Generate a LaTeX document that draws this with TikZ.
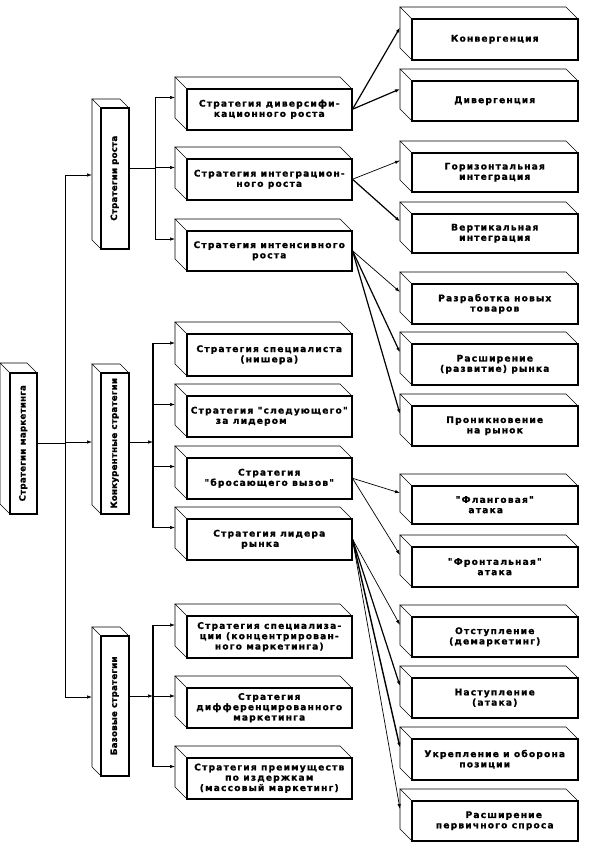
\documentclass[tikz,border=0pt]{standalone}
\usepackage{fontspec}
\usepackage{graphicx}
\newfontfamily\bxfont{DejaVu Sans}[LetterSpace=13, BoldFeatures={FakeBold=1.2}]
\newfontfamily\vtfont{DejaVu Sans}[LetterSpace=3, BoldFeatures={FakeBold=1.2}]
\usetikzlibrary{arrows.meta}
\newcommand\cube[7]{%
  \draw[backedge] (#2,#3) -- ++(-#6,-#6) -- ({#4-#6},{#3-#6}) -- (#4,#3);
  \draw[backedge] ({#2-#6},{#3-#6}) -- ({#2-#6},{#5-#6}) -- (#2,#5);
  \node[front, minimum width={#4-#2}, minimum height={#5-#3}, anchor=north west] (#1) at (#2,#3) {#7};
  \coordinate (#1-in) at ({#2-#6},{(#3+#5)/2-#6});
}
\newcommand\shl[1]{\hspace*{#1}}
\begin{document}
\begin{tikzpicture}[x=1pt,y=-1pt,
  front/.style={draw, line width=1.5pt, fill=white, inner sep=0pt, align=center,
    font=\bxfont\bfseries\fontsize{9.1}{10.3}\selectfont},
  backedge/.style={line width=0.6pt},
  conn/.style={line width=0.7pt},
  arr/.style={conn, -{Latex[length=5pt,width=3.5pt]}},
  thickarr/.style={arr, line width=1.2pt}
]
\useasboundingbox (0,0) rectangle (595,849);
\fill[white] (0,0) rectangle (595,849);

% left column
\cube{mk}{9}{372}{36}{513}{9}{\rotatebox{90}{\vtfont\bfseries\fontsize{8.6}{10}\selectfont Стратегии маркетинга}}

% second column
\cube{rosta}{100}{107}{128}{248}{8}{\rotatebox{90}{\vtfont\bfseries\fontsize{8.6}{10}\selectfont Стратегии роста}}
\cube{konk}{100}{372}{128}{513}{8}{\rotatebox{90}{\vtfont\bfseries\fontsize{8.6}{10}\selectfont Конкурентные стратегии}}
\cube{baz}{100}{635}{128}{775}{8}{\rotatebox{90}{\vtfont\bfseries\fontsize{8.6}{10}\selectfont Базовые стратегии}}

% third column
\cube{d1}{186}{88}{351}{129}{11}{Стратегия диверсифи-\\кационного роста}
\cube{d2}{186}{158}{351}{199}{11}{Стратегия интеграцион-\\ного роста}
\cube{d3}{186}{230}{351}{270}{11}{Стратегия интенсивного\\роста}
\cube{k1}{186}{333}{351}{375}{11}{Стратегия специалиста\\(нишера)}
\cube{k2}{186}{395}{351}{436}{11}{Стратегия "следующего"\\за лидером\shl{36pt}}
\cube{k3}{186}{457}{351}{498}{11}{Стратегия\\"бросающего вызов"}
\cube{k4}{186}{518}{351}{559}{11}{Стратегия лидера\\рынка\shl{18pt}}
\cube{b1}{186}{615}{351}{657}{11}{Стратегия специализа-\\ции (концентрирован-\\ного маркетинга)}
\cube{b2}{186}{687}{351}{727}{11}{Стратегия\\дифференцированного\\маркетинга}
\cube{b3}{186}{757}{351}{798}{11}{Стратегия преимуществ\\по издержкам\shl{36pt}\\(массовый маркетинг)}

% right column
\cube{r1}{411}{18}{577}{59}{11}{Конвергенция}
\cube{r2}{411}{80}{577}{120}{11}{Дивергенция}
\cube{r3}{411}{152}{577}{191}{11}{Горизонтальная\\интеграция}
\cube{r4}{411}{213}{577}{252}{11}{Вертикальная\\интеграция}
\cube{r5}{411}{283}{577}{323}{11}{Разработка новых\\товаров}
\cube{r6}{411}{343}{577}{384}{11}{Расширение\\(развитие) рынка}
\cube{r7}{411}{405}{577}{445}{11}{Проникновение\\на рынок}
\cube{r8}{411}{485}{577}{523}{11}{"Фланговая"\\атака\shl{18pt}}
\cube{r9}{411}{546}{577}{586}{11}{"Фронтальная"\\атака}
\cube{r10}{411}{616}{577}{656}{11}{Отступление\\(демаркетинг)}
\cube{r11}{411}{677}{577}{717}{11}{Наступление\\(атака)}
\cube{r12}{411}{738}{577}{779}{11}{Укрепление и оборона\\позиции\shl{20pt}}
\cube{r13}{411}{800}{577}{840}{11}{\shl{18pt}Расширение\\первичного спроса}

% level 1 bus
\coordinate (j0) at (65,442);
\coordinate (rosta-a) at (92,175);
\coordinate (konk-a) at (92,442);
\coordinate (baz-a) at (92,697);
\draw[conn] (mk.east) -- (mk.east -| j0);
\draw[conn] (j0 |- rosta-a) -- (j0 |- baz-a);
\draw[arr] (j0 |- rosta-a) -- (rosta-a);
\draw[arr] (j0) -- (konk-a);
\draw[arr] (j0 |- baz-a) -- (baz-a);

% growth bus
\coordinate (j1) at (155,168);
\draw[conn] (rosta.east |- j1) -- (j1);
\draw[conn] (j1 |- d1-in) -- (j1 |- d3-in);
\foreach \n in {d1,d2,d3} \draw[arr] (j1 |- \n-in) -- (\n-in);

% competitive bus
\coordinate (j2) at (153,442);
\draw[arr] (konk.east |- j2) -- (j2);
\draw[conn, line width=1.4pt] (j2 |- k1-in) -- (j2 |- k4-in);
\foreach \n in {k1,k2,k3,k4} \draw[arr] (j2 |- \n-in) -- (\n-in);

% basic bus
\coordinate (j3) at (153,696);
\draw[arr] (baz.east |- j3) -- (j3);
\draw[conn, line width=1.1pt] (j3 |- b1-in) -- (j3 |- b3-in);
\foreach \n in {b1,b2,b3} \draw[arr] (j3 |- \n-in) -- (\n-in);

% right fan-outs
\draw[thickarr] (d1.east) -- (r1-in);
\draw[thickarr] (d1.east) -- (r2-in);
\draw[arr] (d2.east) -- (r3-in);
\draw[thickarr] (d2.east) -- (r4-in);
\draw[arr] (d3.east) -- (r5-in);
\draw[thickarr] (d3.east) -- (r6-in);
\draw[thickarr] (d3.east) -- (r7-in);
\draw[arr] (k3.east) -- (r8-in);
\draw[arr] (k3.east) -- (r9-in);
\draw[arr] (k4.east) -- (r10-in);
\draw[thickarr] (k4.east) -- (r11-in);
\draw[thickarr, line width=1.4pt] (k4.east) -- (r12-in);
\draw[arr] (k4.east) -- (r13-in);
\end{tikzpicture}
\end{document}
